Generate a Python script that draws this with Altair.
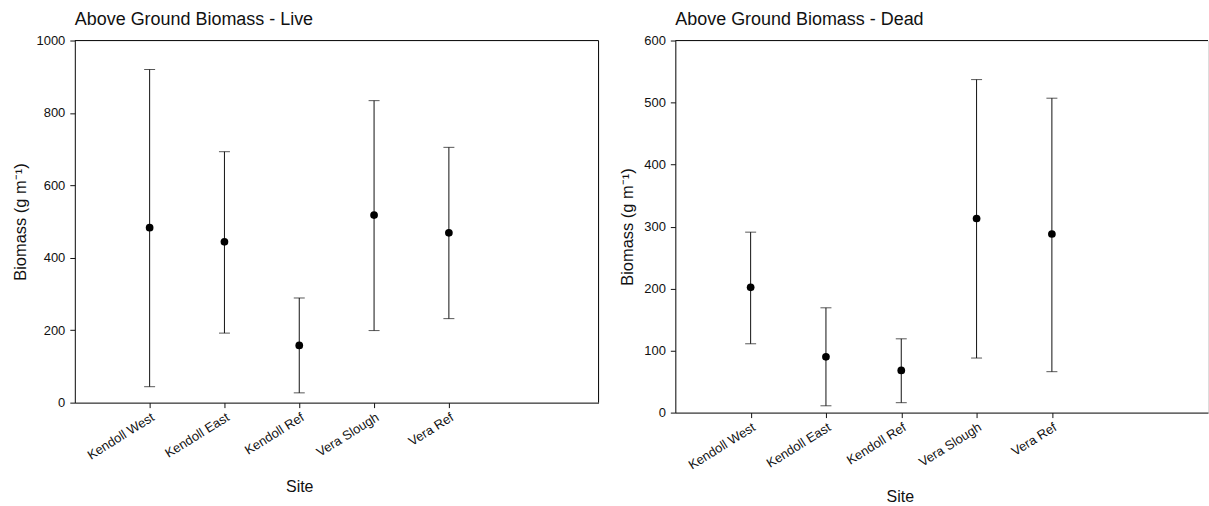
import json
import altair as alt
import pandas as pd

sites = ["Kendoll West", "Kendoll East", "Kendoll Ref", "Vera Slough", "Vera Ref"]

live_mean = [483, 444, 158, 518, 469]
live_upper = [920, 693, 289, 834, 705]
live_lower = [44, 192, 27, 199, 232]

dead_mean = [202, 90, 68, 313, 288]
dead_upper = [291, 169, 119, 537, 507]
dead_lower = [111, 11, 16, 88, 66]

live_ticks = [0, 200, 400, 600, 800, 1000]
dead_ticks = [0, 100, 200, 300, 400, 500, 600]

FONT = "Liberation Sans"
INK = "#111111"


def panel(title, mean, upper, lower, ticks, width, height, xmax, right_border):
    df = pd.DataFrame({
        "site": sites,
        "pos": list(range(1, len(sites) + 1)),
        "mean": mean,
        "upper": upper,
        "lower": lower,
    })
    label_expr = json.dumps(sites) + "[datum.value - 1]"
    x = alt.X(
        "pos:Q",
        scale=alt.Scale(domain=[0, xmax], nice=False, zero=False),
        axis=alt.Axis(
            values=list(range(1, len(sites) + 1)),
            labelExpr=label_expr,
            labelAngle=328,
            labelAlign="right",
            labelBaseline="top",
            labelPadding=3,
            labelFontSize=13,
            labelFont=FONT,
            labelColor=INK,
            tickSize=5,
            tickColor=INK,
            domainColor=INK,
            grid=False,
            title="Site",
            titleFont=FONT,
            titleFontSize=16,
            titleFontWeight="normal",
            titleColor=INK,
            titleX=225,
            titleY=76,
        ),
    )
    y_scale = alt.Scale(domain=[ticks[0], ticks[-1]], nice=False)
    y_axis = alt.Axis(
        values=ticks,
        format="d",
        labelFontSize=13,
        labelFont=FONT,
        labelColor=INK,
        labelPadding=5,
        tickSize=5,
        tickColor=INK,
        domainColor=INK,
        grid=False,
        title="Biomass (g m⁻¹)",
        titleFont=FONT,
        titleFontSize=16.5,
        titleFontWeight="normal",
        titleColor=INK,
        titlePadding=8,
    )
    base = alt.Chart(df)
    bars = base.mark_rule(color=INK, strokeWidth=1).encode(
        x=x,
        y=alt.Y("lower:Q", scale=y_scale, axis=y_axis),
        y2="upper:Q",
    )
    cap_hi = base.mark_tick(color=INK, orient="horizontal", size=11, thickness=1).encode(
        x="pos:Q", y="upper:Q"
    )
    cap_lo = base.mark_tick(color=INK, orient="horizontal", size=11, thickness=1).encode(
        x="pos:Q", y="lower:Q"
    )
    pts = base.mark_circle(color="black", opacity=1, size=60).encode(
        x="pos:Q", y="mean:Q"
    )
    one = alt.Data(values=[{"k": 0}])
    layers = [
        bars, cap_hi, cap_lo, pts,
        alt.Chart(one).mark_rule(color=INK, strokeWidth=1).encode(
            x=alt.value(0), x2=alt.value(width), y=alt.value(0)
        ),
    ]
    if right_border:
        layers.append(
            alt.Chart(one).mark_rule(color=INK, strokeWidth=1).encode(
                x=alt.value(width), y=alt.value(0), y2=alt.value(height)
            )
        )
    return alt.layer(*layers).properties(
        width=width,
        height=height,
        title=alt.TitleParams(
            title,
            anchor="start",
            frame="group",
            font=FONT,
            fontSize=18,
            fontWeight="normal",
            color=INK,
            offset=6,
        ),
    )


left = panel("Above Ground Biomass - Live", live_mean, live_upper, live_lower,
             live_ticks, 525, 363, 7.0, True)
right = panel("Above Ground Biomass - Dead", dead_mean, dead_upper, dead_lower,
              dead_ticks, 534, 373, 534 / 75.5, False)

chart = alt.hconcat(left, right, spacing=19).properties(
    padding={"left": 11, "top": 9, "right": 0, "bottom": 0}
).configure_view(strokeWidth=0, stroke="transparent").configure(background="white")

chart.save("out.html", embed_options={"renderer": "svg", "actions": False})
